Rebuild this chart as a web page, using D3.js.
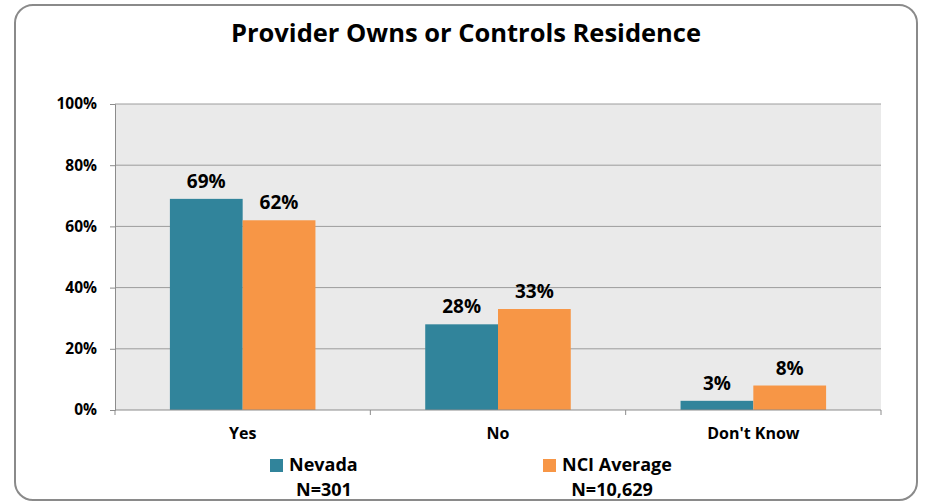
<!DOCTYPE html>
<html>
<head>
<meta charset="utf-8">
<script src="https://cdn.jsdelivr.net/npm/d3@7"></script>
<style>
  body { margin: 0; background: #fff; }
  text { font-family: "Open Sans", "DejaVu Sans", sans-serif; font-weight: bold; fill: #000; }
</style>
</head>
<body>
<script>
// chart data
var categories = ["Yes", "No", "Don't Know"]
var seriesNames = ["Nevada", "NCI Average"]
var seriesN = ["N=301", "N=10,629"]
var nevada = [69, 28, 3]
var nciAverage = [62, 33, 8]
var yTicks = [0, 20, 40, 60, 80, 100]
var colors = ["#31849B", "#F79646"]

// bounds of chart
var W = 926, H = 502
var plot = {left: 115, right: 881, top: 104, bottom: 410}

var svg = d3.select("body").append("svg").attr("width", W).attr("height", H)

// outer rounded frame
svg.append("rect").attr("x", 15).attr("y", 5).attr("width", 902).attr("height", 495)
  .attr("rx", 18).attr("ry", 18).attr("fill", "#fff").attr("stroke", "#8a8a8a").attr("stroke-width", 2)

svg.append("text").attr("x", 466).attr("y", 42).attr("text-anchor", "middle")
  .style("font-size", "25.5px").text("Provider Owns or Controls Residence")

// scales
var x0 = d3.scaleBand().domain(categories).range([plot.left, plot.right])
var x1 = d3.scaleBand().domain(seriesNames).range([0, x0.bandwidth() * 0.57])
var y = d3.scaleLinear().domain([0, 100]).range([plot.bottom, plot.top])

// plot background
svg.append("rect").attr("x", plot.left).attr("y", plot.top)
  .attr("width", plot.right - plot.left).attr("height", plot.bottom - plot.top).attr("fill", "#EAEAEA")

// gridlines
svg.append("g").selectAll("line").data(yTicks.slice(1)).enter().append("line")
  .attr("x1", plot.left).attr("x2", plot.right)
  .attr("y1", function(d) { return y(d) }).attr("y2", function(d) { return y(d) })
  .attr("stroke", "#9c9c9c").attr("stroke-width", 1)

// y axis
var yAxis = d3.axisLeft(y).tickValues(yTicks).tickSize(5).tickPadding(13)
  .tickFormat(function(d) { return d + "%" })
var gy = svg.append("g").attr("transform", "translate(" + plot.left + ",0)").call(yAxis)
gy.select(".domain").attr("stroke", "#8c8c8c")
gy.selectAll(".tick line").attr("stroke", "#8c8c8c")
gy.selectAll("text").style("font-size", "15.5px").attr("font-family", null).attr("fill", "#000")

// bars
var data = categories.map(function(c, i) { return {cat: c, vals: [nevada[i], nciAverage[i]]} })
var offset = (x0.bandwidth() - x1.range()[1]) / 2
var groups = svg.append("g").selectAll("g").data(data).enter().append("g")
  .attr("transform", function(d) { return "translate(" + (x0(d.cat) + offset) + ",0)" })
groups.selectAll("rect").data(function(d) { return d.vals }).enter().append("rect")
  .attr("x", function(d, i) { return x1(seriesNames[i]) })
  .attr("y", function(d) { return y(d) })
  .attr("width", x1.bandwidth())
  .attr("height", function(d) { return y(0) - y(d) })
  .attr("fill", function(d, i) { return colors[i] })
groups.selectAll("text").data(function(d) { return d.vals }).enter().append("text")
  .attr("x", function(d, i) { return x1(seriesNames[i]) + x1.bandwidth() / 2 })
  .attr("y", function(d) { return y(d) - 11 })
  .attr("text-anchor", "middle").style("font-size", "19px")
  .text(function(d) { return d + "%" })

// x axis (ticks between categories)
var gx = svg.append("g").attr("transform", "translate(0," + plot.bottom + ")")
gx.append("line").attr("x1", plot.left).attr("x2", plot.right).attr("stroke", "#8c8c8c")
var bounds = [plot.left].concat(categories.map(function(c) { return x0(c) + x0.bandwidth() }))
gx.selectAll(".tk").data(bounds).enter().append("line").attr("class", "tk")
  .attr("x1", function(d) { return d }).attr("x2", function(d) { return d })
  .attr("y1", 0).attr("y2", 5).attr("stroke", "#8c8c8c")
gx.selectAll(".lbl").data(categories).enter().append("text").attr("class", "lbl")
  .attr("x", function(d) { return x0(d) + x0.bandwidth() / 2 }).attr("y", 29)
  .attr("text-anchor", "middle").style("font-size", "16px").text(function(d) { return d })

// legend
var legX = [270, 543]
var legend = svg.append("g").selectAll("g").data(seriesNames).enter().append("g")
  .attr("transform", function(d, i) { return "translate(" + legX[i] + ",0)" })
legend.append("rect").attr("x", 0).attr("y", 459).attr("width", 13).attr("height", 13)
  .attr("fill", function(d, i) { return colors[i] })
legend.append("text").attr("x", 19).attr("y", 471).style("font-size", "18px").text(function(d) { return d })
legend.append("text").attr("x", function(d, i) { return i == 0 ? 54 : 69 }).attr("y", 496)
  .attr("text-anchor", "middle").style("font-size", "18px").text(function(d, i) { return seriesN[i] })
</script>
</body>
</html>
